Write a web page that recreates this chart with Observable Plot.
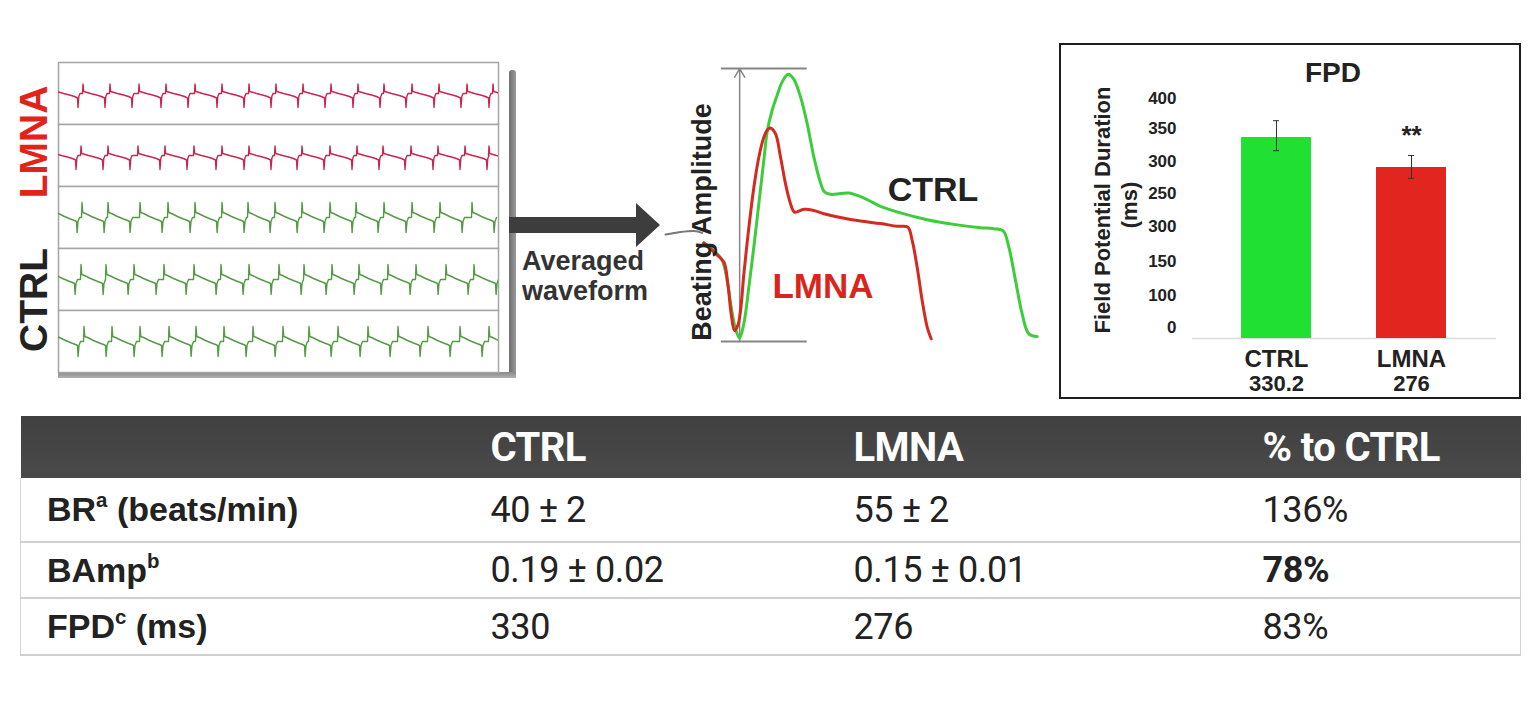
<!DOCTYPE html>
<html><head><meta charset="utf-8">
<script src="https://cdn.jsdelivr.net/npm/d3@7"></script>
<script src="https://cdn.jsdelivr.net/npm/@observablehq/plot@0.6"></script>
<style>
body{margin:0;background:#fff;}
#fig{position:relative;width:1536px;height:716px;overflow:hidden;background:#fff;font-family:"Liberation Sans",Arial,sans-serif;}
#fig svg{position:absolute;background:transparent;overflow:visible;}
#tbl{position:absolute;left:20px;top:416px;width:1500px;border-collapse:collapse;table-layout:fixed;}
#tbl th{background:linear-gradient(#404040,#4a4a4a);color:#fff;height:62px;font-family:Roboto,sans-serif;font-weight:700;font-size:40px;letter-spacing:-0.6px;text-align:left;padding:0 0 0 20px;}
#tbl td{font-family:Roboto,sans-serif;font-size:36px;letter-spacing:-0.4px;color:#222;text-align:left;padding:0 0 0 20px;border-bottom:2px solid #cfcfcf;}
#tbl td.lab{padding-left:26px;font-family:"Liberation Sans",Arial,sans-serif;font-weight:700;font-size:34px;letter-spacing:0;border-left:1px solid #d4d4d4;}
#tbl td.last{border-right:1px solid #d4d4d4;}
#tbl sup{font-size:0.6em;vertical-align:0.7em;line-height:0;}
</style></head><body><div id="fig"></div>
<script>
// ---------- DATA ----------
// raw traces: rows, group, beat onsets (time units ~ px of recording), beat templates
const traceRows = ["LMNA 1", "LMNA 2", "CTRL 1", "CTRL 2", "CTRL 3"];
const traceGroups = ["LMNA", "LMNA", "CTRL", "CTRL", "CTRL"];
const beatOnsets = [
  [-3, 24, 51, 80, 107, 136, 163, 190, 217, 244, 272, 299, 325, 353, 380, 408, 434],
  [-5, 22, 49, 79, 106, 135, 163, 190, 216, 243, 271, 298, 324, 352, 379, 406, 430],
  [-4, 23, 49, 81, 109, 136, 163, 189, 216, 243, 271, 297, 325, 353, 381, 413],
  [-6, 22, 47, 75, 105, 135, 162, 190, 220, 245, 273, 300, 329, 357, 387, 415],
  [-3, 25, 53, 81, 110, 137, 165, 194, 224, 250, 279, 309, 339, 369, 401, 430]
];
const lmnaBeatT = [0, 0.5, 1.2, 3, 8, 14, 19, 21, 22, 22.5, 23.3, 24.5];
const lmnaBeatV = [0, 9.5, 2, 1.5, 0, -1.5, -3, -4, -4.5, -14, -3, 0];
const ctrlBeatT = [0, 0.5, 1.3, 4, 10, 16, 20, 22, 22.6, 23.5, 25];
const ctrlBeatV = [0, 15, 5, 4, 1, -1.5, -3, -4, -15, -4, 0];

// averaged waveforms (t in ms-like units, v normalised to beating amplitude)
const ctrlAvgT = [52,64,74,80,84.8,90,94.8,100,106,112,118,124,128,134,140,146,153.2,160,168,176,184,191.2,196.8,204,216,226,236,248,264,288,320,352,384,400,411.2,418,426,434,442,452];
const ctrlAvgV = [0.361,0.334,0.297,0.224,0.126,0.047,0.013,0.065,0.199,0.346,0.505,0.664,0.768,0.847,0.902,0.951,0.979,0.960,0.896,0.798,0.676,0.590,0.548,0.539,0.542,0.544,0.535,0.520,0.495,0.471,0.446,0.429,0.417,0.413,0.405,0.346,0.224,0.101,0.028,0.018];
const lmnaAvgT = [52,66,76,80.8,84.8,88.8,92.8,96,100,106,112,118,124,128.8,132,138,144,150,156,160.8,172,184,196,216,240,264,284,296.8,302,308,314,320,324.8];
const lmnaAvgV = [0.361,0.322,0.291,0.211,0.101,0.040,0.059,0.112,0.246,0.417,0.564,0.675,0.748,0.777,0.782,0.761,0.676,0.578,0.505,0.474,0.484,0.480,0.468,0.454,0.441,0.432,0.422,0.419,0.370,0.272,0.150,0.053,0.010];
const leadT = [6, 24, 40, 50];
const leadV = [0.392, 0.401, 0.405, 0.398];
const ampRuleT = [73, 176];
const ampArrowT = 95;

// FPD bar chart
const fpdGroups = ["CTRL", "LMNA"];
const fpdBar = [335, 285];
const fpdErrLo = [313, 267];
const fpdErrHi = [363, 305];
const fpdValueLabels = ["330.2", "276"];
const fpdSig = ["", "**"];
const fpdTickValues = [400, 350, 295, 242, 187, 128, 72, 18];
const fpdTickLabels = ["400", "350", "300", "250", "300", "150", "100", "0"];

// summary table
const tableHeaders = ["", "CTRL", "LMNA", "% to CTRL"];
const rowNames = ["BR", "BAmp", "FPD"];
const rowSups = ["a", "b", "c"];
const rowUnits = [" (beats/min)", "", " (ms)"];
const ctrlValues = ["40 ± 2", "0.19 ± 0.02", "330"];
const lmnaValues = ["55 ± 2", "0.15 ± 0.01", "276"];
const pctValues = ["136%", "78%", "83%"];
const pctBold = [false, true, false];

// ---------- HELPERS ----------
const fig = document.getElementById("fig");
function put(el, left, top) { el.style.left = left + "px"; el.style.top = top + "px"; fig.appendChild(el); return el; }
function label(text, cx, cy, style, rotate) {
  const d = document.createElement("div");
  d.textContent = text;
  Object.assign(d.style, {position: "absolute", left: cx + "px", top: cy + "px",
    transform: "translate(-50%,-50%)" + (rotate ? " rotate(-90deg)" : ""),
    whiteSpace: "nowrap", lineHeight: "1", fontWeight: "bold", color: "#222"}, style);
  fig.appendChild(d);
  return d;
}
function box(left, top, w, h, style) {
  const d = document.createElement("div");
  Object.assign(d.style, {position: "absolute", left: left + "px", top: top + "px", width: w + "px", height: h + "px"}, style);
  fig.appendChild(d);
}

// ---------- RAW TRACES ----------
const tracePoints = [];
traceRows.forEach((row, r) => {
  const g = traceGroups[r];
  const T = g === "LMNA" ? lmnaBeatT : ctrlBeatT;
  const V = g === "LMNA" ? lmnaBeatV : ctrlBeatV;
  beatOnsets[r].forEach(o => T.forEach((dt, k) => tracePoints.push({row, group: g, t: o + dt, v: V[k]})));
});
// shadow of the recording panel
box(509, 70, 7, 308, {background: "linear-gradient(90deg,#6f6f6f,#9a9a9a)", borderRadius: "3px 3px 0 0"});
box(58, 372, 458, 6, {background: "linear-gradient(#8a8a8a,#b0b0b0)"});
const traces = Plot.plot({
  width: 530, height: 390, marginTop: 62, marginBottom: 18, marginLeft: 58, marginRight: 32,
  x: {domain: [0, 440], axis: null},
  y: {domain: [-31, 31], axis: null},
  fy: {domain: traceRows, padding: 0, axis: null},
  color: {domain: ["LMNA", "CTRL"], range: ["#c8264f", "#559a45"]},
  facet: {data: tracePoints, y: "row"},
  marks: [
    Plot.frame({stroke: "#a5a5a5", strokeWidth: 1.5, fill: "#fff"}),
    Plot.line(tracePoints, {x: "t", y: "v", z: "row", stroke: "group", strokeWidth: 1.4, clip: true})
  ]
});
put(traces, 0, 0);
label("LMNA", 32.5, 142, {fontSize: "39px", color: "#e2231a"}, true);
label("CTRL", 32.5, 300, {fontSize: "39px", color: "#222"}, true);

// ---------- ARROW ----------
const ns = "http://www.w3.org/2000/svg";
const asvg = document.createElementNS(ns, "svg");
asvg.setAttribute("width", "160"); asvg.setAttribute("height", "60");
asvg.innerHTML = '<polygon points="0,17 127,17 127,3 151,25 127,47 127,33 0,33" fill="#3d3d3d"/>';
put(asvg, 509, 200);
const aw = document.createElement("div");
aw.innerHTML = "Averaged<br>waveform";
Object.assign(aw.style, {position: "absolute", fontWeight: "bold", fontSize: "27px", lineHeight: "30px", color: "#333"});
put(aw, 522, 246);

// ---------- AVERAGED WAVEFORM ----------
const ctrlAvg = ctrlAvgT.map((t, i) => ({t, v: ctrlAvgV[i]}));
const lmnaAvg = lmnaAvgT.map((t, i) => ({t, v: lmnaAvgV[i]}));
const lead = leadT.map((t, i) => ({t, v: leadV[i]}));
const avg = Plot.plot({
  width: 380, height: 290, marginTop: 8, marginBottom: 9, marginLeft: 0, marginRight: 0,
  x: {domain: [0, 456], axis: null},
  y: {domain: [0, 1], axis: null},
  marks: [
    Plot.ruleY([0, 1], {x1: ampRuleT[0], x2: ampRuleT[1], stroke: "#858585", strokeWidth: 2}),
    Plot.arrow([ampArrowT], {x1: d => d, x2: d => d, y1: 0, y2: 1, stroke: "#858585", strokeWidth: 1.5, headLength: 10}),
    Plot.line(lead, {x: "t", y: "v", stroke: "#777", strokeWidth: 2, curve: "natural"}),
    Plot.line(ctrlAvg, {x: "t", y: "v", stroke: "#3dcc3a", strokeWidth: 3, curve: "catmull-rom"}),
    Plot.line(lmnaAvg, {x: "t", y: "v", stroke: "#d52a20", strokeWidth: 3, curve: "catmull-rom"})
  ]
});
put(avg, 660, 60);
label("Beating Amplitude", 702, 222, {fontSize: "27px", color: "#222"}, true);
label("CTRL", 933, 189, {fontSize: "34px", color: "#222"});
label("LMNA", 823, 285, {fontSize: "35px", color: "#d9261c"});

// ---------- FPD BAR CHART ----------
box(1059, 43, 458, 352, {border: "2px solid #1e1e1e", background: "#fff"});
const fpd = fpdGroups.map((g, i) => ({g, v: fpdBar[i], lo: fpdErrLo[i], hi: fpdErrHi[i], val: fpdValueLabels[i], sig: fpdSig[i]}));
const tickMap = new Map(fpdTickValues.map((v, i) => [v, fpdTickLabels[i]]));
const bar = Plot.plot({
  width: 460, height: 354, marginTop: 54, marginBottom: 60, marginLeft: 132, marginRight: 24,
  style: {fontFamily: "'Liberation Sans', Arial, sans-serif", fontWeight: "bold", color: "#222"},
  x: {domain: fpdGroups, paddingInner: 0.48, paddingOuter: 0.358, axis: null},
  y: {domain: [0, 400], axis: null},
  color: {domain: fpdGroups, range: ["#20e034", "#e2261f"]},
  marks: [
    Plot.ruleY([0], {stroke: "#dcdcdc", strokeWidth: 1.5}),
    Plot.barY(fpd, {x: "g", y: "v", fill: "g"}),
    Plot.ruleX(fpd, {x: "g", y1: "lo", y2: "hi", stroke: "#333", strokeWidth: 1}),
    Plot.tickY(fpd, {x: "g", y: "lo", insetLeft: 32, insetRight: 32, stroke: "#333", strokeWidth: 1}),
    Plot.tickY(fpd, {x: "g", y: "hi", insetLeft: 32, insetRight: 32, stroke: "#333", strokeWidth: 1}),
    Plot.text(fpd, {x: "g", y: "hi", text: "sig", dy: -20, fontSize: 26, fill: "#222"}),
    Plot.axisY({ticks: fpdTickValues, tickFormat: d => tickMap.get(d), tickSize: 0, tickPadding: 16, fontSize: 17, label: null, fill: "#222"}),
    Plot.text(fpd, {x: "g", y: 0, text: "g", dy: 11, lineAnchor: "top", fontSize: 24, fill: "#222"}),
    Plot.text(fpd, {x: "g", y: 0, text: "val", dy: 37, lineAnchor: "top", fontSize: 22, fill: "#222"})
  ]
});
put(bar, 1060, 44);
label("FPD", 1333, 73, {fontSize: "28px"});
label("Field Potential Duration", 1103, 210, {fontSize: "22px"}, true);
label("(ms)", 1130, 205, {fontSize: "22px"}, true);

// ---------- TABLE ----------
const tbl = document.createElement("table");
tbl.id = "tbl";
const colW = [450, 363, 409, 278];
let html = "<colgroup>" + colW.map(w => `<col style="width:${w}px">`).join("") + "</colgroup>";
html += "<thead><tr>" + tableHeaders.map(h => `<th>${h}</th>`).join("") + "</tr></thead><tbody>";
const rowH = [64, 56, 57];
rowNames.forEach((n, i) => {
  html += `<tr style="height:${rowH[i]}px"><td class="lab">${n}<sup>${rowSups[i]}</sup>${rowUnits[i]}</td><td>${ctrlValues[i]}</td><td>${lmnaValues[i]}</td><td class="last" style="font-weight:${pctBold[i] ? 700 : 400}">${pctValues[i]}</td></tr>`;
});
html += "</tbody>";
tbl.innerHTML = html;
fig.appendChild(tbl);
</script></body></html>
